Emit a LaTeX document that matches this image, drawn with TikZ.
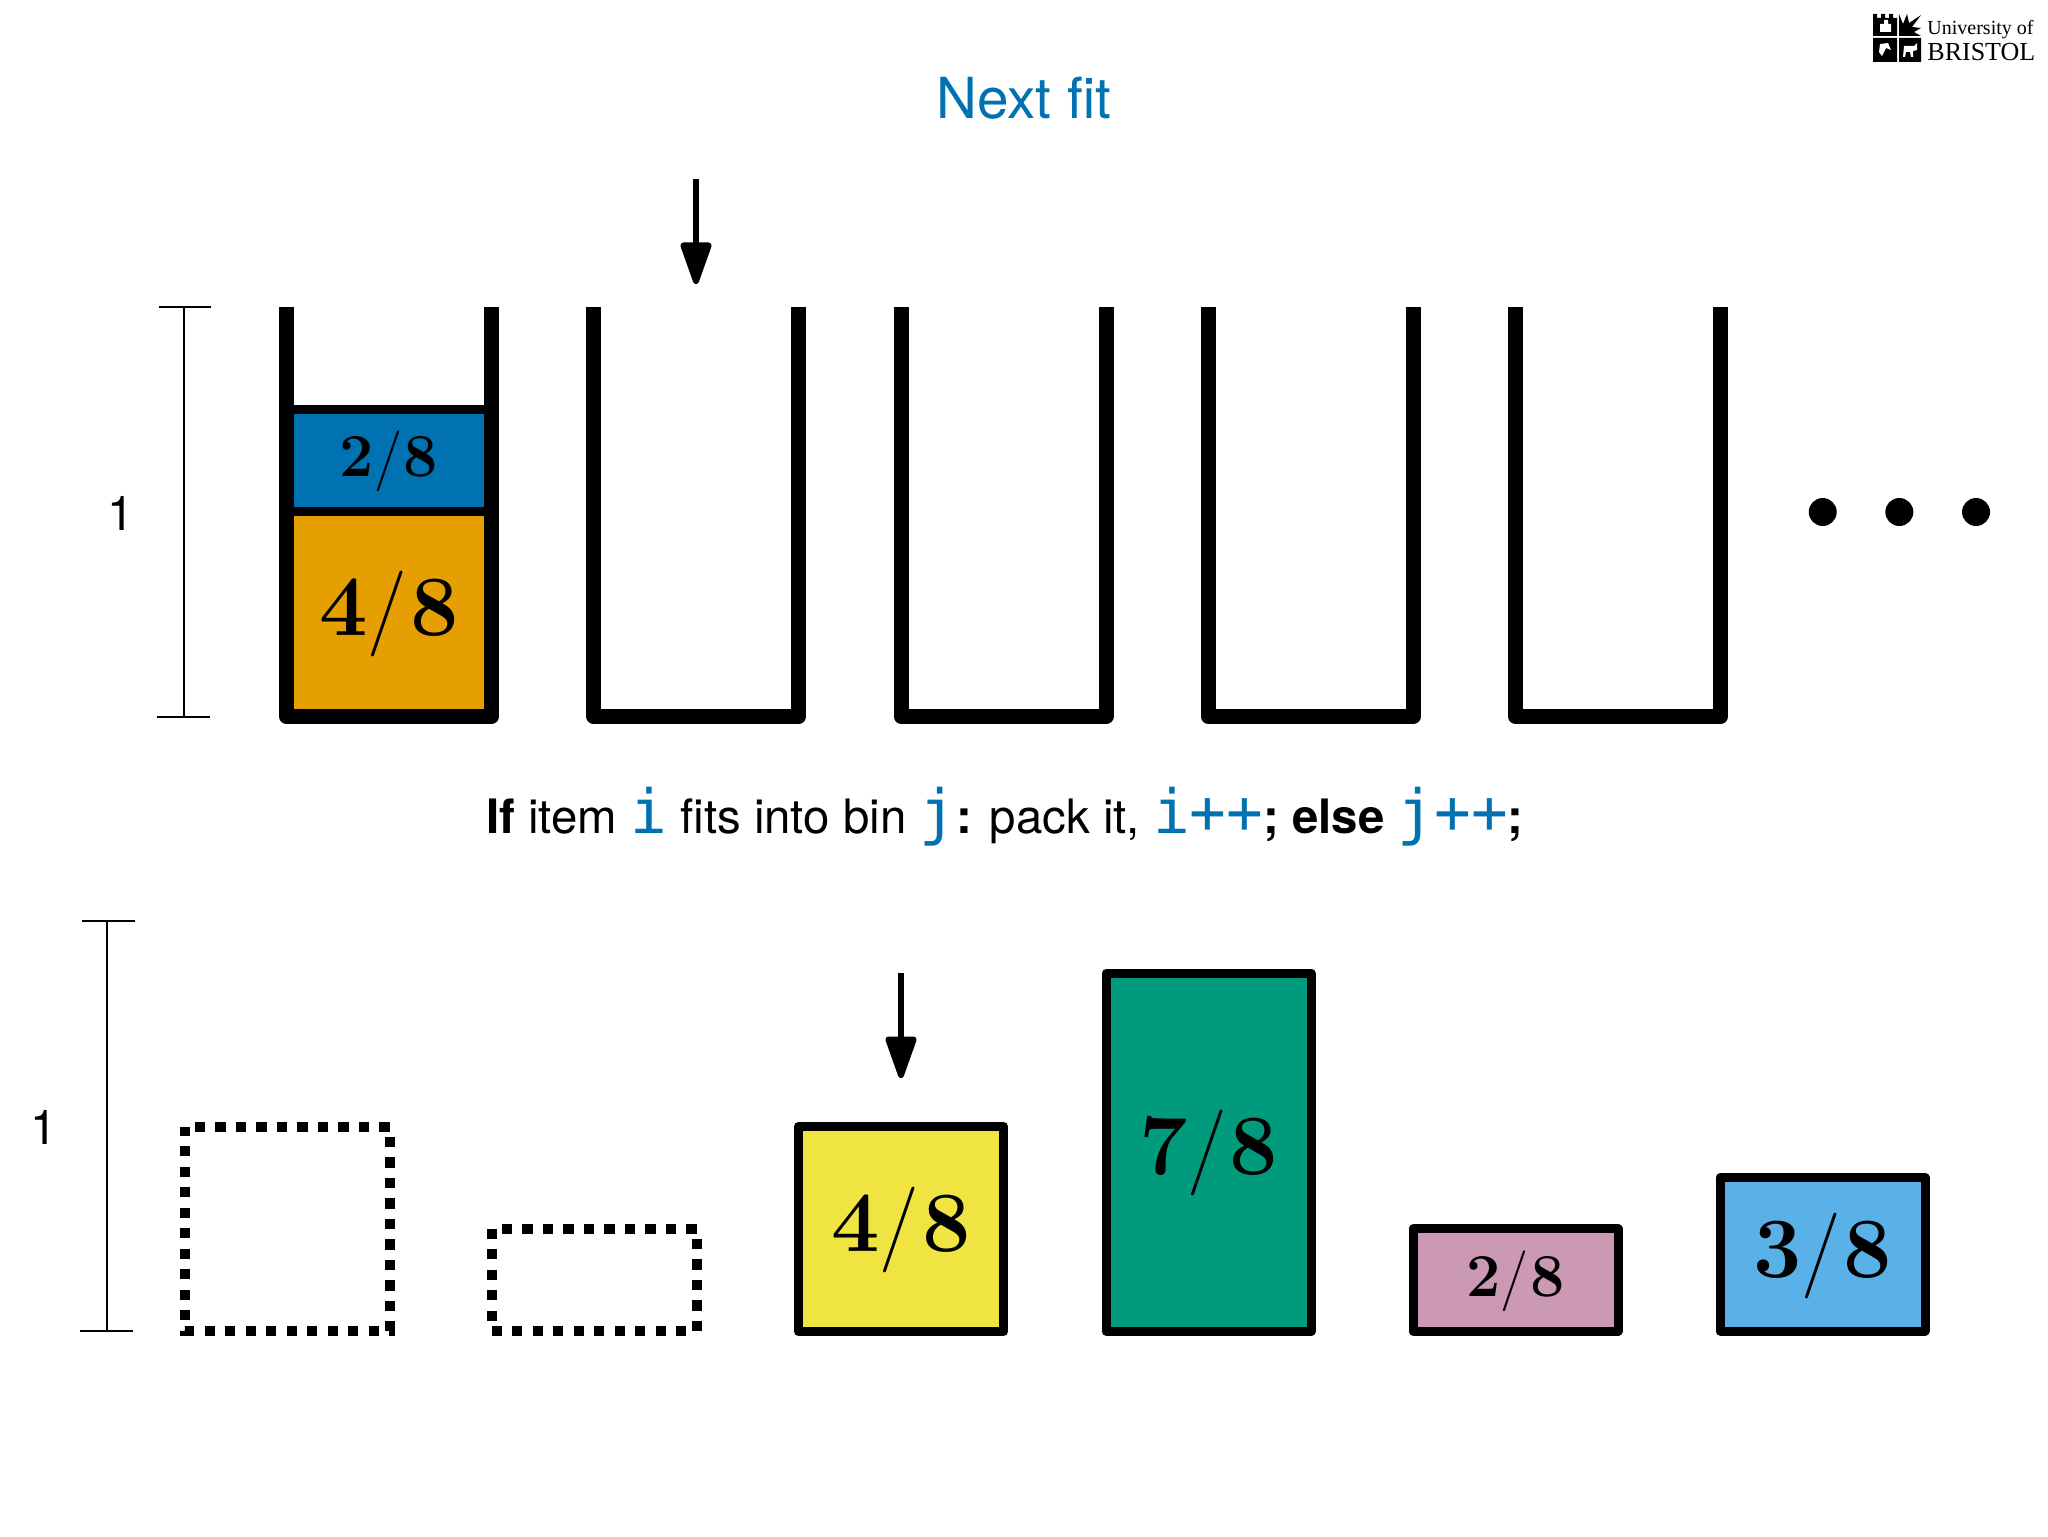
\documentclass[tikz,border=0pt]{standalone}
\usepackage{fontspec}
\setmainfont{TeX Gyre Heros}
\setmonofont{DejaVu Sans Mono}
\newfontfamily\numfont{Latin Modern Roman}
\newfontfamily\logofont{Liberation Serif}
\usetikzlibrary{arrows.meta}
\definecolor{tblue}{HTML}{0072B2}
\definecolor{torange}{HTML}{E69F00}
\definecolor{tyellow}{HTML}{F0E442}
\definecolor{tgreen}{HTML}{009B7D}
\definecolor{tpink}{HTML}{CC99B4}
\definecolor{tsky}{HTML}{5AB1E7}
\tikzset{
 x=0.5pt,y=-0.5pt,
 binwall/.style={line width=7.5pt,line join=round},
 itembox/.style={draw,line width=4.5pt,line join=round,inner sep=0pt,outer sep=0pt},
 ghost/.style={line width=5pt,dash pattern=on 5.1pt off 5.15pt,dash phase=5.1pt},
 ruler/.style={line width=1.4pt},
 pointer/.style={line width=3pt,-{Triangle[length=24pt,width=16pt,round]}},
 bigfrac/.style={inner sep=0pt,font=\numfont\fontsize{43}{43}\selectfont},
 smallfrac/.style={inner sep=0pt,font=\numfont\fontsize{30.5}{30.5}\selectfont},
 lbl/.style={font=\fontsize{24}{24}\selectfont,inner sep=0pt},
 dot/.style={circle,fill=black,inner sep=0pt,minimum size=14pt},
}
\newcommand{\cd}[1]{{\ttfamily\color{tblue}\fontsize{30.5}{30.5}\selectfont #1}}
\newcommand{\fr}[1]{\textbf{#1}/\kern.03em\textbf{8}}
\begin{document}
\begin{tikzpicture}
\useasboundingbox (0,0) rectangle (2048,1536);
\node[inner sep=0pt,font=\fontsize{28.3}{28.3}\selectfont,text=tblue] (title) at (1024,98) {Next fit};
% logo
\fill (1873,14) -- (1877,14) -- (1877,18) -- (1881,18) -- (1881,14) -- (1885,14) -- (1885,18) -- (1889,18) -- (1889,14) -- (1893,14) -- (1893,18) -- (1897,18) -- (1897,14) -- (1897,36) -- (1873,36) -- cycle;
\fill (1873,38) rectangle (1897,62) (1899,38) rectangle (1921,62);
\fill (1899,36) -- (1899,14) -- (1903,24) -- (1907,14) -- (1909,23) -- (1921,15) -- (1912,27) -- (1921,28) -- (1914,32) -- (1921,36) -- cycle;
\fill[white] (1880,24) rectangle (1891,32) (1884,20) rectangle (1888,24);
\fill[white] (1880,44) -- (1888,43) -- (1891,50) -- (1886,48) -- (1882,56) -- (1879,52) -- cycle;
\fill[white] (1904,46) -- (1914,46) -- (1917,43) -- (1917,50) -- (1913,51) -- (1913,57) -- (1911,57) -- (1910,52) -- (1906,52) -- (1905,57) -- (1903,57) -- cycle;
\node[inner sep=0pt,anchor=base west,font=\logofont\fontsize{10}{10}\selectfont] (uni) at (1927,35) {University of};
\node[inner sep=0pt,anchor=base west,font=\logofont\fontsize{13}{13}\selectfont] (bri) at (1927,61) {BRISTOL};
% top ruler
\coordinate (rt) at (184,307); \coordinate (rb) at (184,717);
\coordinate (rtl) at (159,307); \coordinate (rtr) at (211,307);
\coordinate (rbl) at (157,717); \coordinate (rbr) at (210,717);
\draw[ruler] (rt)--(rb) (rtl)--(rtr) (rbl)--(rbr);
\node[lbl] (one) at (121,513) {1};
% items in bin 1
\node[itembox,fill=tblue,minimum width=102.5pt,minimum height=51.25pt] (b1) at (389,460.75) {};
\node[smallfrac] (tb1) at (389,461) {\fr{2}};
\node[itembox,fill=torange,minimum width=102.5pt,minimum height=102.25pt] (o1) at (389,614) {};
\node[bigfrac] (to1) at (389,614) {\fr{4}};
% bins
\foreach \k in {0,1,2,3,4}{
 \draw[binwall] ({286.5+307.25*\k},307)--({286.5+307.25*\k},716.5)--({491.5+307.25*\k},716.5)--({491.5+307.25*\k},307);
}
\node[dot] (d1) at (1822.7,512) {};
\node[dot] (d2) at (1899.3,512) {};
\node[dot] (d3) at (1976,512) {};
\coordinate (a1s) at (696,179); \coordinate (a1e) at (696,284);
\draw[pointer] (a1s)--(a1e);
% rule
\node[inner sep=0pt,font=\fontsize{23.7}{23.7}\selectfont,anchor=base] (rule) at (1005,833) {\textbf{If} item \cd{i} fits into bin \cd{j}\textbf{:} pack it, \cd{i++}\textbf{;} \textbf{else} \cd{j++}\textbf{;}};
% bottom ruler
\coordinate (st) at (107,921); \coordinate (sb) at (107,1331);
\coordinate (stl) at (82,921); \coordinate (str) at (135,921);
\coordinate (sbl) at (80,1331); \coordinate (sbr) at (133,1331);
\draw[ruler] (st)--(sb) (stl)--(str) (sbl)--(sbr);
\node[lbl] (one2) at (44,1127) {1};
% ghosts
\draw[ghost] (184.5,1126.5) -- (389.5,1126.5) -- (389.5,1331) -- (184.5,1331) -- cycle;
\draw[ghost] (491.5,1228.5) -- (696.5,1228.5) -- (696.5,1331) -- (491.5,1331) -- cycle;
% items
\node[itembox,fill=tyellow,minimum width=102.5pt,minimum height=102.5pt] (y) at (901,1229) {};
\node[bigfrac] (ty) at (901,1230) {\fr{4}};
\node[itembox,fill=tgreen,minimum width=102.5pt,minimum height=179.25pt] (g) at (1208.5,1152.25) {};
\node[bigfrac] (tg) at (1208.5,1153) {\fr{7}};
\node[itembox,fill=tpink,minimum width=102.5pt,minimum height=51.25pt] (p) at (1515.5,1280) {};
\node[smallfrac] (tp) at (1515.5,1281) {\fr{2}};
\node[itembox,fill=tsky,minimum width=102.5pt,minimum height=76.75pt] (s) at (1822.5,1254.25) {};
\node[bigfrac] (ts) at (1822.5,1256) {\fr{3}};
\coordinate (a2s) at (901,973); \coordinate (a2e) at (901,1078);
\draw[pointer] (a2s)--(a2e);
\end{tikzpicture}
\end{document}
